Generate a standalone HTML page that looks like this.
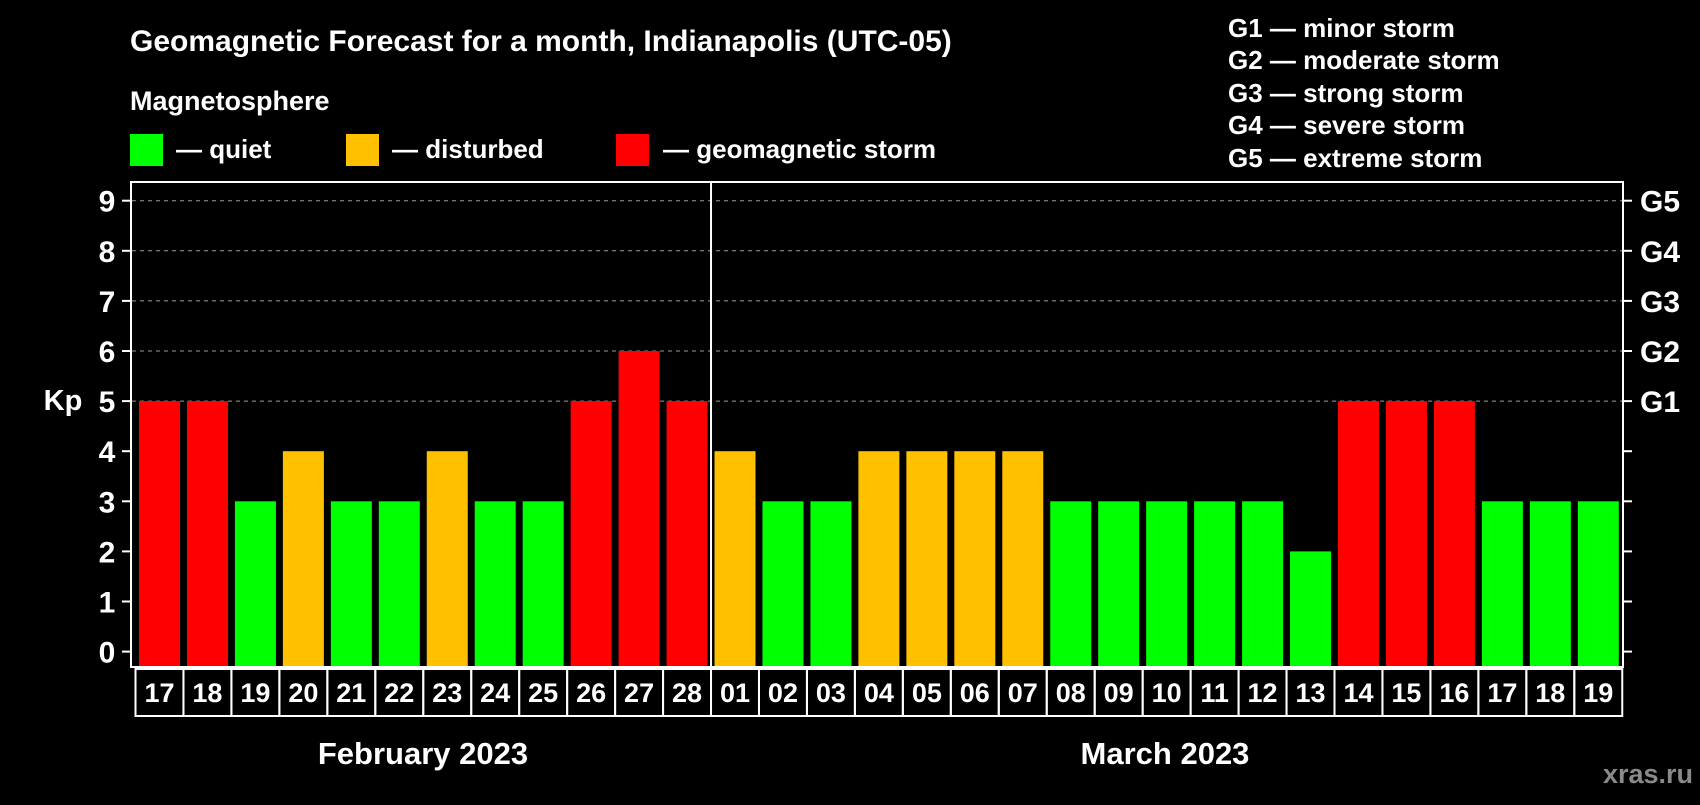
<!DOCTYPE html>
<html><head><meta charset="utf-8"><style>
body{margin:0;background:#000;width:1700px;height:800px;overflow:hidden}
text{font-family:"Liberation Sans",Arial,sans-serif;font-weight:bold;fill:#fff}
</style></head><body>
<svg width="1700" height="800">
<text x="130" y="51" font-size="30">Geomagnetic Forecast for a month, Indianapolis (UTC-05)</text>
<text x="130" y="110" font-size="27">Magnetosphere</text>
<g><rect x="130" y="134" width="33" height="32" fill="#00ff00"/><text x="176" y="158" font-size="26">— quiet</text></g>
<g><rect x="346" y="134" width="33" height="32" fill="#ffc000"/><text x="392" y="158" font-size="26">— disturbed</text></g>
<g><rect x="616" y="134" width="33" height="32" fill="#ff0000"/><text x="663" y="158" font-size="26">— geomagnetic storm</text></g>
<g font-size="26">
<text x="1228" y="37">G1 — minor storm</text>
<text x="1228" y="69">G2 — moderate storm</text>
<text x="1228" y="102">G3 — strong storm</text>
<text x="1228" y="134">G4 — severe storm</text>
<text x="1228" y="167">G5 — extreme storm</text>
</g>
<rect x="131" y="182" width="1492" height="485" fill="none" stroke="#fff" stroke-width="2"/>
<g id="grid"></g><g id="bars"></g><g id="axes"></g>
<text x="63" y="410" font-size="29" text-anchor="middle">Kp</text>
<text x="423" y="764" font-size="31" text-anchor="middle">February 2023</text>
<text x="1165" y="764" font-size="31" text-anchor="middle">March 2023</text>
<text x="1648" y="783" font-size="27" style="fill:#8a8a8a" text-anchor="middle">xras.ru</text>
</svg>
<script>
const days=["17","18","19","20","21","22","23","24","25","26","27","28","01","02","03","04","05","06","07","08","09","10","11","12","13","14","15","16","17","18","19"];
const kp=[5,5,3,4,3,3,4,3,3,5,6,5,4,3,3,4,4,4,4,3,3,3,3,3,2,5,5,5,3,3,3];
const yTicks=[0,1,2,3,4,5,6,7,8,9];
const gLabels=["G1","G2","G3","G4","G5"];
const NS="http://www.w3.org/2000/svg";
const y0=651.6,unit=50.1,x0=135.5,slot=47.96;
const yS=v=>y0-v*unit;
function mk(t,a,p){const e=document.createElementNS(NS,t);for(const k in a)e.setAttribute(k,a[k]);p.appendChild(e);return e;}
const grid=document.getElementById('grid'),bars=document.getElementById('bars'),axes=document.getElementById('axes');
yTicks.forEach(v=>{
 const y=yS(v);
 if(v>=5){const l=mk('line',{x1:132,x2:1622,y1:y,y2:y,stroke:'#999','stroke-dasharray':'4,4','stroke-width':1},grid);
 
 }
 mk('line',{x1:122,x2:131,y1:y,y2:y,stroke:'#fff','stroke-width':2},axes);
 mk('line',{x1:1623,x2:1632,y1:y,y2:y,stroke:'#fff','stroke-width':2},axes);
 const t=mk('text',{x:107,y:y+11,'font-size':30,'text-anchor':'middle'},axes);t.textContent=v;
 
 
 if(v>=5){const g=mk('text',{x:1640,y:y+11,'font-size':30},axes);g.textContent=gLabels[v-5];
 
 }
});
kp.forEach((v,i)=>{
 const c=v>=5?'#ff0000':v===4?'#ffc000':'#00ff00';
 const r=mk('rect',{x:x0+i*slot+3.5,y:yS(v),width:41,height:666-yS(v),fill:c},bars);
 
 
 const b=mk('rect',{x:x0+i*slot,y:669,width:slot,height:47,fill:'none',stroke:'#fff','stroke-width':2},axes);
 
 
 const t=mk('text',{x:x0+i*slot+slot/2,y:702,'font-size':27,'text-anchor':'middle'},axes);t.textContent=days[i];
 
 
});
const d=mk('line',{x1:x0+12*slot,x2:x0+12*slot,y1:182,y2:669,stroke:'#fff','stroke-width':2},axes);


</script>
</body></html>
